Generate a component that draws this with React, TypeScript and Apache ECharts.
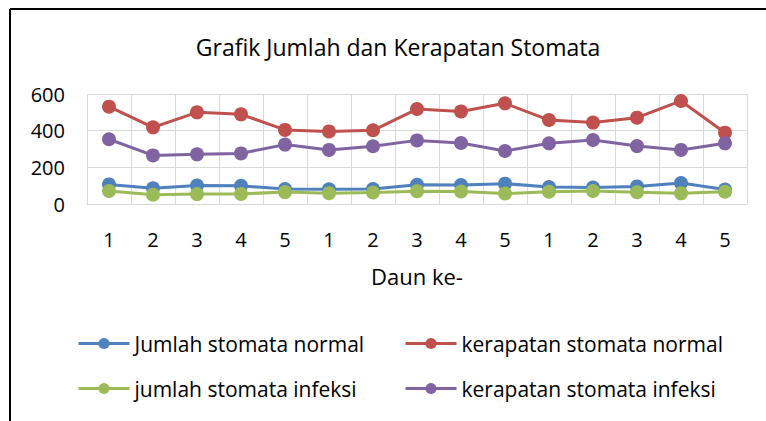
import React, { useEffect, useRef } from "react";
import * as echarts from "echarts";

const categories = ["1", "2", "3", "4", "5", "1", "2", "3", "4", "5", "1", "2", "3", "4", "5"];
const jumlahNormal = [107, 86, 101, 99, 82, 80, 82, 105, 103, 111, 93, 90, 96, 114, 79];
const kerapatanNormal = [531, 418, 500, 489, 404, 396, 402, 518, 505, 549, 458, 444, 471, 562, 389];
const jumlahInfeksi = [71, 51, 54, 55, 65, 59, 63, 70, 68, 57, 67, 71, 64, 58, 67];
const kerapatanInfeksi = [353, 265, 271, 276, 324, 295, 315, 347, 333, 289, 331, 349, 316, 295, 331];
const seriesNames = [
  "Jumlah stomata normal",
  "kerapatan stomata normal",
  "jumlah stomata infeksi",
  "kerapatan stomata infeksi",
];
const colors = ["#4F81BD", "#C0504D", "#9BBB59", "#8064A2"];
const yTicks = { min: 0, max: 600, interval: 200 };

const FONT = "Open Sans";

export default function App() {
  const ref = useRef<HTMLDivElement>(null);
  useEffect(() => {
    if (!ref.current) return;
    const chart = echarts.init(ref.current, undefined, { renderer: "svg" });
    const data = [jumlahNormal, kerapatanNormal, jumlahInfeksi, kerapatanInfeksi];
    const legendPos = [
      { left: 77, top: 333 },
      { left: 404, top: 333 },
      { left: 77, top: 378 },
      { left: 404, top: 378 },
    ];
    chart.setOption({
      animation: false,
      textStyle: { fontFamily: FONT },
      title: {
        text: "Grafik Jumlah dan Kerapatan Stomata",
        left: 393,
        top: 30,
        textAlign: "center",
        textStyle: { fontFamily: FONT, fontSize: 23, fontWeight: "normal", color: "#000" },
      },
      legend: seriesNames.map((n, i) => ({
        data: [n],
        left: legendPos[i].left,
        top: legendPos[i].top,
        padding: 0,
        itemWidth: 51,
        itemHeight: 14,
        itemGap: 5,
        lineStyle: { width: 3 },
        textStyle: { fontFamily: FONT, fontSize: 21, color: "#000" },
      })),
      grid: { left: 87, right: 19, top: 94, bottom: 217 },
      xAxis: {
        type: "category",
        data: categories,
        boundaryGap: true,
        name: "Daun ke-",
        nameLocation: "middle",
        nameGap: 61,
        nameTextStyle: { fontFamily: FONT, fontSize: 22, color: "#000" },
        axisLine: { lineStyle: { color: "#d9d9d9", width: 1 } },
        axisTick: { show: false },
        axisLabel: { fontFamily: FONT, fontSize: 20, color: "#000", margin: 25 },
        splitLine: { show: true, lineStyle: { color: "#d9d9d9", width: 1 } },
      },
      yAxis: {
        type: "value",
        min: yTicks.min,
        max: yTicks.max,
        interval: yTicks.interval,
        axisLine: { show: false },
        axisTick: { show: false },
        axisLabel: { fontFamily: FONT, fontSize: 20, color: "#000", margin: 22 },
        splitLine: { show: true, lineStyle: { color: "#d9d9d9", width: 1 } },
      },
      graphic: [
        { type: "line", shape: { x1: 10, y1: 9, x2: 766, y2: 9 }, style: { stroke: "#000", lineWidth: 2 } },
        { type: "line", shape: { x1: 10, y1: 9, x2: 10, y2: 421 }, style: { stroke: "#000", lineWidth: 2 } },
      ],
      series: seriesNames.map((n, i) => ({
        name: n,
        type: "line",
        data: data[i],
        symbol: "circle",
        symbolSize: 14,
        lineStyle: { width: 3, color: colors[i] },
        itemStyle: { color: colors[i] },
        color: colors[i],
      })),
    });
    return () => chart.dispose();
  }, []);
  return (
    <div
      ref={ref}
      style={{ position: "fixed", left: 0, top: 0, width: 766, height: 421, background: "#fff" }}
    />
  );
}
